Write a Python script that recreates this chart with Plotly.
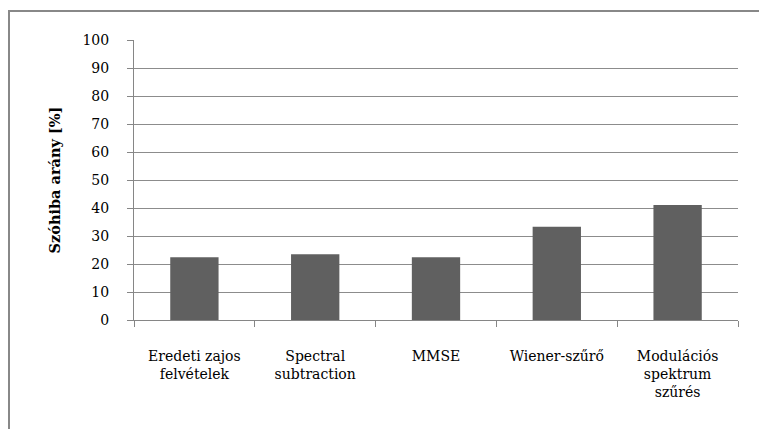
import plotly.graph_objects as go

categories = ["Eredeti zajos<br>felvételek", "Spectral<br>subtraction", "MMSE",
              "Wiener-szűrő", "Modulációs<br>spektrum<br>szűrés"]
values = [22.4, 23.5, 22.4, 33.3, 41.1]
y_ticks = list(range(0, 101, 10))
y_title = "Szóhiba arány [%]"

W, H = 759, 429
L, R, T, B = 134, 21, 40, 109
pw, ph = W - L - R, H - T - B

fig = go.Figure(go.Bar(x=categories, y=values, marker=dict(color="#606060", line=dict(width=0)),
                       width=0.4))

font = dict(family="DejaVu Serif", size=14, color="#000000")

fig.update_layout(
    width=W, height=H,
    margin=dict(l=L, r=R, t=T, b=B, pad=0),
    paper_bgcolor="white", plot_bgcolor="white",
    showlegend=False,
    font=font,
    xaxis=dict(
        showline=True, linecolor="#868686", linewidth=1,
        ticks="outside", ticklen=6, tickcolor="#868686", tickwidth=1,
        tickson="boundaries", showgrid=False,
        tickfont=font, ticklabelstandoff=23,
    ),
    yaxis=dict(
        range=[0, 100], tickvals=y_ticks, ticktext=[str(v) for v in y_ticks],
        showline=True, linecolor="#868686", linewidth=1,
        ticks="outside", ticklen=6, tickcolor="#868686", tickwidth=1,
        showgrid=True, gridcolor="#8c8c8c", gridwidth=1, zeroline=False,
        tickfont=font, ticklabelstandoff=15,
        title=dict(text="<b>" + y_title + "</b>", font=dict(family="DejaVu Serif", size=14.5, color="#000"),
                   standoff=18),
    ),
)

# outer chart border (extends beyond the right and bottom edges)
def px2x(p):
    return (p - L) / pw

def py2y(p):
    return (H - B - p) / ph

fig.add_shape(type="rect", xref="paper", yref="paper",
              x0=px2x(9), x1=px2x(775), y0=py2y(11), y1=py2y(445),
              line=dict(color="#888888", width=2), fillcolor="rgba(0,0,0,0)", layer="below")

fig.write_html("out.html")
